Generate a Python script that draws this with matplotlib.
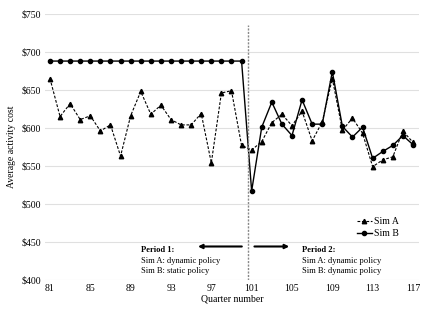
import matplotlib.pyplot as plt

# Datos
trimestres = list(range(81, 118))
sim_a = [665, 615, 632, 611, 616, 596, 604, 563, 616, 648,
         618, 630, 611, 604, 604, 619, 554, 646, 649, 577,
         571, 582, 607, 618, 603, 622, 583, 608, 665, 597,
         613, 593, 549, 558, 562, 596, 581]
sim_b = [688] * 20 + [517, 601, 634, 605, 590, 637, 605, 605, 674, 602,
                      588, 601, 560, 569, 577, 590, 578]
ticks_x = list(range(81, 118, 4))
ticks_y = list(range(400, 751, 50))
corte = 100.65

plt.rcParams['font.family'] = ['Liberation Serif', 'DejaVu Serif']

fig = plt.figure(figsize=(4.32, 3.10), dpi=100)
ax = fig.add_axes([0.104, 0.097, 0.866, 0.858])

ax.plot(trimestres, sim_a, color='black', linestyle=(0, (2.5, 1.5)), linewidth=0.8,
        marker='^', markersize=3.2, label='Sim A')
ax.plot(trimestres, sim_b, color='black', linewidth=1.0,
        marker='o', markersize=3.0, label='Sim B')

ax.plot([corte, corte], [400, 735], color='#888888', linestyle=(0, (1.5, 1)), linewidth=1.0)

# Flechas de los periodos
ax.annotate('', xy=(95.4, 444), xytext=(100.3, 444),
            arrowprops=dict(arrowstyle='-|>', color='black', lw=1.5, mutation_scale=6))
ax.annotate('', xy=(105.0, 444), xytext=(101.0, 444),
            arrowprops=dict(arrowstyle='-|>', color='black', lw=1.5, mutation_scale=6))

ax.text(90.0, 439, 'Period 1:', fontsize=6.1, fontweight='bold', va='center')
ax.text(90.0, 425, 'Sim A: dynamic policy', fontsize=6.1, va='center')
ax.text(90.0, 412, 'Sim B: static policy', fontsize=6.1, va='center')
ax.text(106.0, 439, 'Period 2:', fontsize=6.1, fontweight='bold', va='center')
ax.text(106.0, 425, 'Sim A: dynamic policy', fontsize=6.1, va='center')
ax.text(106.0, 412, 'Sim B: dynamic policy', fontsize=6.1, va='center')

ax.set_xlim(80.5, 117.6)
ax.set_ylim(400, 750)
ax.set_xticks(ticks_x)
ax.set_yticks(ticks_y)
ax.set_yticklabels([f'${v}' for v in ticks_y])
ax.tick_params(length=0, labelsize=7, pad=3)
ax.grid(axis='y', color='#e0e0e0', linewidth=0.8)
ax.set_axisbelow(True)
for s in ax.spines.values():
    s.set_visible(False)

ax.set_xlabel('Quarter number', fontsize=7, labelpad=1)
ax.set_ylabel('Average activity cost', fontsize=7, labelpad=4)

ax.legend(loc='lower right', bbox_to_anchor=(0.97, 0.125), frameon=False, fontsize=7,
          handlelength=1.6, handletextpad=0.2, labelspacing=0.3)

fig.savefig('out.png', dpi=100)
